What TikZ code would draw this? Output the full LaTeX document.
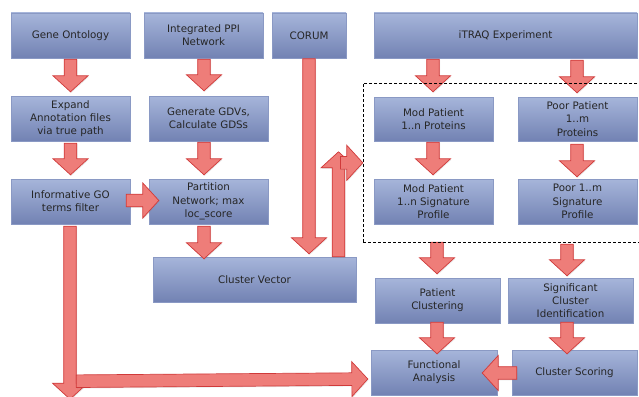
\documentclass[tikz,border=0pt]{standalone}
\usepackage{fontspec}
\setmainfont{DejaVu Sans}
\usetikzlibrary{calc,shadows}
\definecolor{boxtop}{HTML}{A6B5DA}
\definecolor{boxbot}{HTML}{7282B3}
\definecolor{boxedge}{HTML}{8A99C4}
\definecolor{arrfill}{HTML}{EE7D79}
\definecolor{arredge}{HTML}{D03A3A}
\definecolor{txt}{HTML}{262626}
\tikzset{
  procbox/.style={rectangle, top color=boxtop, bottom color=boxbot, draw=boxedge, line width=0.4pt,
    minimum height=45pt, minimum width=119pt, align=center, text=txt, inner sep=1pt,
    font=\fontsize{10.3}{13.3}\selectfont,
    drop shadow={shadow xshift=1pt, shadow yshift=-1.2pt, opacity=0.25}},
  blockarr/.style={fill=arrfill, draw=arredge, line width=0.7pt, line join=miter,
    drop shadow={shadow xshift=0.8pt, shadow yshift=-1pt, opacity=0.18}},
}
\newcommand\sw{6.3pt}
\newcommand\hw{17.5pt}
\newcommand\hl{16pt}
\newcommand\barr[2]{%
  \coordinate (ba-a) at (#1);
  \coordinate (ba-b) at (#2);
  \coordinate (ba-h) at ($(ba-b)!\hl!(ba-a)$);
  \draw[blockarr] ($(ba-a)!\sw!90:(ba-b)$) -- ($(ba-h)!\sw!-90:(ba-a)$) -- ($(ba-h)!\hw!-90:(ba-a)$)
    -- (ba-b) -- ($(ba-h)!\hw!90:(ba-a)$) -- ($(ba-h)!\sw!90:(ba-a)$) -- ($(ba-a)!\sw!-90:(ba-b)$) -- cycle;
}
\begin{document}
\begin{tikzpicture}[x=1pt,y=-1pt]
\useasboundingbox (0,0) rectangle (639,396);
\clip (0,0) rectangle (639,396);
% boxes
\node[procbox] (go) at (70.5,35.5) {Gene Ontology};
\node[procbox] (ppi) at (203.5,35.5) {Integrated PPI\\Network};
\node[procbox, minimum width=74pt] (corum) at (309,35.5) {CORUM};
\node[procbox, minimum width=263pt] (itraq) at (505.5,35.5) {iTRAQ Experiment};
\node[procbox] (exp) at (70.5,118.5) {Expand\\Annotation files\\via true path};
\node[procbox] (gdv) at (208.5,118.5) {Generate GDVs,\\Calculate GDSs};
\node[procbox, minimum height=44pt] (modp) at (433.5,119) {Mod Patient\\1..n Proteins};
\node[procbox, minimum height=44pt] (poorp) at (577.5,119) {Poor Patient\\1..m\\Proteins};
\node[procbox] (info) at (70.5,201.5) {Informative GO\\terms filter};
\node[procbox] (part) at (208.5,201.5) {Partition\\Network; max\\loc\_score};
\node[procbox] (mods) at (433.5,201.5) {Mod Patient\\1..n Signature\\Profile};
\node[procbox] (poors) at (577.5,201.5) {Poor 1..m\\Signature\\Profile};
\node[procbox, minimum width=203pt] (cv) at (254.5,279.5) {Cluster Vector};
\node[procbox, minimum width=125pt] (pc) at (437.5,300.5) {Patient\\Clustering};
\node[procbox, minimum width=125pt] (sci) at (570.5,300.5) {Significant\\Cluster\\Identification};
\node[procbox, minimum width=126pt] (fa) at (434,372.5) {Functional\\Analysis};
\node[procbox, minimum width=125pt] (cs) at (574.5,372.5) {Cluster Scoring};
% arrows
\barr{$(go.south)+(0,1)$}{$(exp.north)+(0,-4)$}
\barr{$(exp.south)+(0,2)$}{$(info.north)+(0,-4)$}
\barr{$(ppi.south)+(0.5,1)$}{$(ppi.south|-gdv.north)+(0.5,-5)$}
\barr{$(gdv.south)+(-4.5,1)$}{$(part.north)+(-4.5,-4)$}
\barr{$(info.east)+(-4,-1)$}{$(part.west)+(10,-1)$}
\barr{$(part.south)+(-4.5,2)$}{$(part.south|-cv.north)+(-4.5,2)$}
\barr{$(corum.south)+(0,0.5)$}{$(corum.south|-cv.north)+(0,-3)$}
\barr{$(cv.north)+(84,0)$}{$(cv.north)+(84,-105)$}
\barr{$(cv.north)+(86,-94)$}{$(modp.west|-cv.north)+(-11,-94)$}
\barr{$(itraq.south)+(-72.5,1)$}{$(modp.north)+(-0.5,-5)$}
\barr{$(itraq.south)+(71.5,2)$}{$(poorp.north)+(-0.5,-4)$}
\barr{$(modp.south)+(-0.5,1)$}{$(mods.north)+(-0.5,-4)$}
\barr{$(poorp.south)+(-0.5,3)$}{$(poors.north)+(-0.5,-2)$}
\barr{$(mods.south)+(3.5,18)$}{$(pc.north)+(-0.5,-4)$}
\barr{$(poors.south)+(-10.5,20)$}{$(sci.north)+(-3.5,-2)$}
\barr{$(pc.south)+(-0.5,-1)$}{$(fa.north)+(3,4)$}
\barr{$(sci.south)+(-3.5,-1)$}{$(cs.north)+(-7.5,4)$}
\barr{$(cs.west)+(5,0.5)$}{$(fa.east)+(-15,0.5)$}
\barr{$(info.south)+(-0.5,2)$}{$(info.south)+(-0.5,175)$}
\barr{$(info.south)+(5.8,157)$}{$(fa.west)+(-3,6.5)$}
% dashed group
\node[draw=black, dashed, dash pattern=on 3pt off 2pt, line width=0.8pt, minimum width=290pt, minimum height=159pt, inner sep=0pt] (grp) at (508,162.5) {};
\end{tikzpicture}
\end{document}
